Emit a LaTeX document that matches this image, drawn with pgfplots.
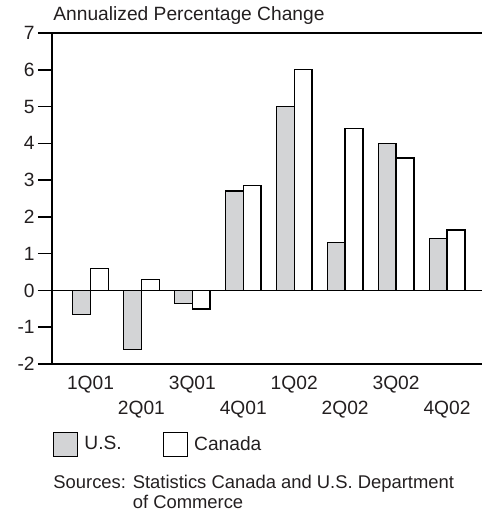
\documentclass[border=0pt]{standalone}
\usepackage{fontspec}
\setmainfont{Liberation Sans}
\usepackage{pgfplots}
\pgfplotsset{compat=1.18}
\usetikzlibrary{calc}
\definecolor{usgray}{RGB}{211,212,214}
\definecolor{txt}{RGB}{35,31,32}
\begin{document}
\begin{tikzpicture}[font=\fontsize{9.6}{10}\selectfont, text=txt]
\begin{axis}[
  scale only axis, width=215pt, height=165.5pt,
  xmin=-0.756, xmax=7.687, ymin=-2, ymax=7,
  axis x line*=box, axis y line*=left,
  axis line style={line width=0.75pt, black},
  ybar=0pt, bar width=8.9pt,
  ytick={-2,...,7}, ytick pos=left,
  tick align=outside, major tick length=7pt,
  ytick style={line width=0.75pt, black},
  xtick={0,...,7},
  xtick style={draw=none},
  xticklabels={1Q01,\raisebox{-12.5pt}{2Q01},3Q01,\raisebox{-12.5pt}{4Q01},1Q02,\raisebox{-12.5pt}{2Q02},3Q02,\raisebox{-12.5pt}{4Q02}},
  xticklabel style={anchor=base, inner sep=0pt, yshift=-5.5pt},
  yticklabel style={anchor=east, inner sep=0pt, xshift=-1.5pt},
  /pgf/number format/assume math mode=true,
  extra y ticks={0}, extra y tick labels={},
  extra y tick style={grid=major, major grid style={line width=0.75pt, black}},
  clip=false,
  legend columns=2,
  legend style={draw=none, fill=none, at={(rel axis cs:0,0)}, anchor=north west,
    xshift=0.5pt, yshift=-34pt, inner sep=0pt, outer sep=0pt,
    nodes={inner sep=0pt},
    /tikz/every odd column/.append style={column sep=3pt},
    /tikz/every even column/.append style={column sep=20.5pt}},
]
\addplot[fill=usgray, draw=black, line width=0.7pt,
  legend image code/.code={\draw[fill=usgray, draw=black, line width=0.7pt] (0pt,-6pt) rectangle (12pt,6pt);}]
  coordinates {(0,-0.65) (1,-1.6) (2,-0.35) (3,2.7) (4,5.0) (5,1.3) (6,4.0) (7,1.42)};
\addlegendentry{U.S.}
\addplot[fill=white, draw=black, line width=0.7pt,
  legend image code/.code={\draw[fill=white, draw=black, line width=0.7pt] (0pt,-6pt) rectangle (12pt,6pt);}]
  coordinates {(0,0.6) (1,0.3) (2,-0.5) (3,2.85) (4,6.0) (5,4.4) (6,3.6) (7,1.64)};
\addlegendentry{Canada}
\coordinate (O) at (rel axis cs:0,0);
\end{axis}
\node[anchor=base west, inner sep=0pt] at ($(O)+(0.5pt,171.5pt)$) {Annualized Percentage Change};
\node[anchor=base west, inner sep=0pt] at ($(O)+(0.5pt,-62pt)$)
  {\fontsize{9.2}{10}\selectfont\begin{tabular}[t]{@{}l@{ }l@{}}Sources: & Statistics Canada and U.S. Department\\ & of Commerce\end{tabular}};
\pgfresetboundingbox
\path[use as bounding box] ($(O)+(-26pt,-75pt)$) rectangle ($(O)+(215pt,182pt)$);
\end{tikzpicture}
\end{document}
